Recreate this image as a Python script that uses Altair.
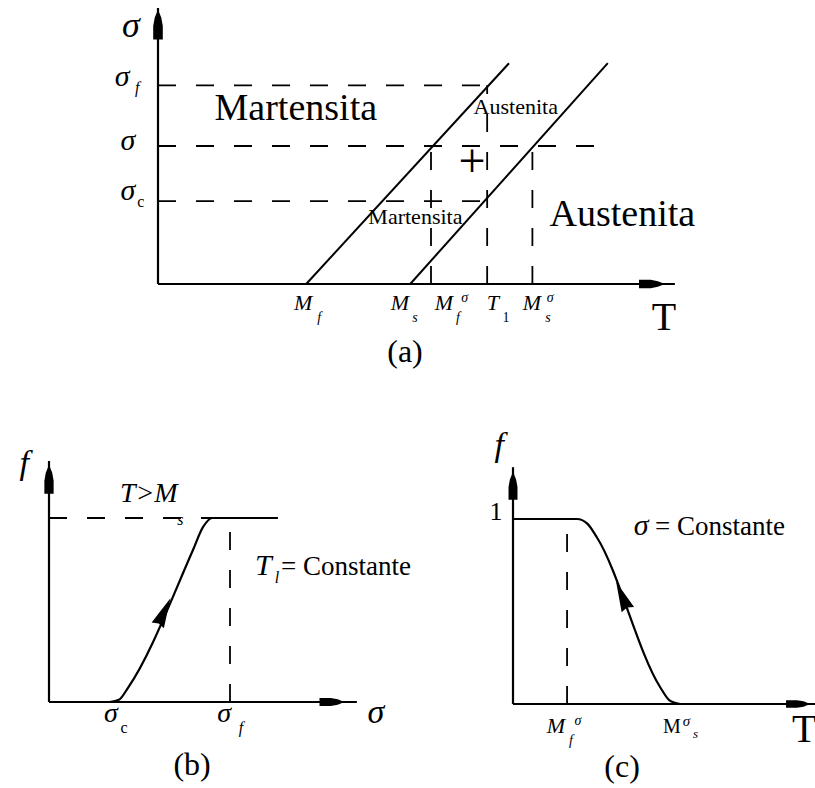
import altair as alt
import pandas as pd

SERIF = "Liberation Serif"

# ---------------- (a) stress-temperature phase diagram ----------------
# temperatures on the T axis (arbitrary units)
T_MF, T_MS, T_MF_SIG, T_1, T_MS_SIG = 28.5, 48.5, 52.5, 63.3, 72.0
# stress levels on the sigma axis
S_C, S_MID, S_F, S_TOP = 30.0, 50.0, 72.0, 80.0
# transformation lines Mf(sigma) and Ms(sigma): T at sigma=0 and at S_TOP
line_start_T = [T_MF, T_MS]
line_end_T = [67.5, 86.5]
# dashed guides
hguide_sigma = [S_F, S_MID, S_C]
hguide_end_T = [T_1, 86.5, T_1]
vguide_T = [T_MF_SIG, T_1, T_MS_SIG]
vguide_top = [S_MID, S_F, S_MID]

# ---------------- (b) fraction f vs stress at constant T1 ----------------
b_sigma = [19.5, 22.5, 25.5, 46.3, 49.5, 52.5, 73.6]
b_f = [0.0, 0.012, 0.08, 0.826, 0.95, 1.0, 1.0]
B_SIG_C, B_SIG_F = 19.9, 58.2

# ---------------- (c) fraction f vs temperature at constant sigma ----------------
c_T = [0.0, 21.2, 24.6, 27.8, 48.7, 51.8, 55.3]
c_f = [1.0, 1.0, 0.975, 0.9, 0.092, 0.02, 0.0]
C_MF_SIG = 17.9

DASH = [18, 20]

# axis arrowhead: blunt block tapering to a point
AXIS_HEAD = "M0,-1L0.22,-0.45L0.32,0.1L0.32,1L-0.32,1L-0.32,0.1L-0.22,-0.45Z"
# arrowhead drawn on the curves
CURVE_HEAD = "M0,-1L0.45,1L0,0.85L-0.45,1Z"


def sc(domain, rng):
    return alt.Scale(domain=domain, range=rng, nice=False, zero=False)


XA, YA = sc([0, 100], [158, 678]), sc([0, 100], [284, 8])
XB, YB = sc([0, 100], [49, 360]), sc([0, 1], [702, 518])
XC, YC = sc([0, 100], [513, 815]), sc([0, 1], [704, 519])


def segs(x, y, x2, y2, xs, ys, dash=False, width=2.0):
    df = pd.DataFrame({"x": x, "y": y, "x2": x2, "y2": y2})
    kw = dict(color="black", strokeWidth=width)
    if dash:
        kw["strokeDash"] = DASH
    return alt.Chart(df).mark_rule(**kw).encode(
        x=alt.X("x:Q", scale=xs, axis=None),
        y=alt.Y("y:Q", scale=ys, axis=None),
        x2="x2:Q",
        y2="y2:Q",
    )


def arrowhead(x, y, angle, length, shape, xs, ys):
    df = pd.DataFrame({"x": [x], "y": [y]})
    return alt.Chart(df).mark_point(
        shape=shape, size=length * length, filled=True, color="black",
        opacity=1, strokeWidth=0, angle=angle,
    ).encode(
        x=alt.X("x:Q", scale=xs, axis=None),
        y=alt.Y("y:Q", scale=ys, axis=None),
    )


def curve(x, y, xs, ys):
    df = pd.DataFrame({"x": x, "y": y})
    return alt.Chart(df).mark_line(
        color="black", strokeWidth=2.2, interpolate="monotone"
    ).encode(
        x=alt.X("x:Q", scale=xs, axis=None),
        y=alt.Y("y:Q", scale=ys, axis=None),
    )


def texts(rows, xs, ys, size, italic=False, align="center", baseline="alphabetic"):
    df = pd.DataFrame(rows, columns=["t", "x", "y"])
    return alt.Chart(df).mark_text(
        font=SERIF, fontSize=size, fontStyle="italic" if italic else "normal",
        align=align, baseline=baseline, color="black",
    ).encode(
        x=alt.X("x:Q", scale=xs, axis=None),
        y=alt.Y("y:Q", scale=ys, axis=None),
        text="t:N",
    )


# ---------- panel (a) ----------
panel_a = alt.layer(
    segs([0], [0], [0], [100], XA, YA, width=2.2),
    segs([0], [0], [99.4], [0], XA, YA, width=2.2),
    arrowhead(0, 94.0, 0, 30, AXIS_HEAD, XA, YA),
    arrowhead(95.0, 0, 90, 26, AXIS_HEAD, XA, YA),
    segs(line_start_T, [0, 0], line_end_T, [S_TOP, S_TOP], XA, YA, width=2.0),
    segs([0, 0, 0], hguide_sigma, hguide_end_T, hguide_sigma, XA, YA, dash=True, width=1.8),
    segs(vguide_T, [0, 0, 0], vguide_T, vguide_top, XA, YA, dash=True, width=1.8),
    texts([("Martensita", 26.5, 59.4), ("Austenita", 89.3, 21.0)], XA, YA, 38),
    texts([("Austenita", 68.8, 61.6), ("Martensita", 49.5, 21.7)], XA, YA, 22),
    texts([("+", 60.4, 38.8)], XA, YA, 48),
    texts([("σ", -5.2, 89.5)], XA, YA, 36, italic=True),
    texts([("σ", -6.9, 71.7), ("σ", -5.8, 48.6), ("σ", -5.8, 30.4)], XA, YA, 30, italic=True),
    texts([("f", -4.0, 69.2)], XA, YA, 16, italic=True),
    texts([("c", -3.3, 27.9)], XA, YA, 16),
    texts([("M", 27.9, -9.4), ("M", 46.5, -9.4), ("M", 55.0, -9.4),
           ("T", 64.4, -9.4), ("M", 71.9, -9.4)], XA, YA, 22, italic=True),
    texts([("f", 31.0, -13.6), ("s", 49.4, -13.6), ("f", 57.7, -13.6),
           ("s", 75.0, -13.6), ("σ", 59.0, -6.5), ("σ", 75.4, -6.5)], XA, YA, 14, italic=True),
    texts([("1", 66.9, -13.6)], XA, YA, 14),
    texts([("T", 97.3, -16.7)], XA, YA, 40),
    texts([("(a)", 47.5, -28.3)], XA, YA, 32),
)

# ---------- panel (b) ----------
panel_b = alt.layer(
    segs([0], [0], [0], [1.31], XB, YB, width=2.2),
    segs([0], [0], [99.0], [0], XB, YB, width=2.2),
    arrowhead(0, 1.21, 0, 29, AXIS_HEAD, XB, YB),
    arrowhead(91.0, 0, 90, 25, AXIS_HEAD, XB, YB),
    segs([0], [1], [52.5], [1], XB, YB, dash=True, width=1.8),
    segs([B_SIG_F], [0], [B_SIG_F], [1], XB, YB, dash=True, width=1.8),
    curve(b_sigma, b_f, XB, YB),
    arrowhead(37.0, 0.49, 25, 30, CURVE_HEAD, XB, YB),
    texts([("f", -8.0, 1.239)], XB, YB, 34, italic=True),
    texts([("T>M", 22.8, 1.087)], XB, YB, 28, italic=True, align="left"),
    texts([("s", 41.2, 0.962)], XB, YB, 16, italic=True, align="left"),
    texts([("l", 72.6, 0.647)], XB, YB, 16, italic=True, align="left"),
    texts([("T", 66.2, 0.690)], XB, YB, 30, italic=True, align="left"),
    texts([("= Constante", 74.6, 0.690)], XB, YB, 27, align="left"),
    texts([("σ", B_SIG_C, -0.109), ("σ", 56.3, -0.109)], XB, YB, 28, italic=True),
    texts([("c", 24.1, -0.168)], XB, YB, 16),
    texts([("f", 61.7, -0.168)], XB, YB, 16, italic=True),
    texts([("σ", 105.1, -0.114)], XB, YB, 34, italic=True),
    texts([("(b)", 46.0, -0.397)], XB, YB, 32),
)

# ---------- panel (c) ----------
panel_c = alt.layer(
    segs([0], [0], [0], [1.28], XC, YC, width=2.2),
    segs([0], [0], [100], [0], XC, YC, width=2.2),
    arrowhead(0, 1.18, 0, 28, AXIS_HEAD, XC, YC),
    arrowhead(94.4, 0, 90, 24, AXIS_HEAD, XC, YC),
    segs([C_MF_SIG], [0], [C_MF_SIG], [1], XC, YC, dash=True, width=1.8),
    curve(c_T, c_f, XC, YC),
    arrowhead(36.1, 0.585, 337, 30, CURVE_HEAD, XC, YC),
    texts([("f", -4.6, 1.34)], XC, YC, 34, italic=True),
    texts([("1", -5.6, 0.995)], XC, YC, 26),
    texts([("σ", 42.4, 0.914)], XC, YC, 30, italic=True),
    texts([("= Constante", 47.0, 0.914)], XC, YC, 27, align="left"),
    texts([("M", 14.2, -0.157)], XC, YC, 22, italic=True),
    texts([("f", 19.2, -0.222), ("σ", 21.5, -0.114)], XC, YC, 14, italic=True),
    texts([("s", 60.4, -0.185)], XC, YC, 13, italic=True),
    texts([("M", 52.6, -0.157)], XC, YC, 20),
    texts([("σ", 57.4, -0.118)], XC, YC, 15, italic=True),
    texts([("T", 96.4, -0.205)], XC, YC, 40),
    texts([("(c)", 36.1, -0.395)], XC, YC, 32),
)

chart = (
    alt.layer(panel_a, panel_b, panel_c)
    .resolve_scale(x="independent", y="independent")
    .properties(width=815, height=788, padding=0, autosize=alt.AutoSizeParams(type="none"), background="white")
    .configure_view(stroke=None)
)

chart.save("out.html", embed_options={"renderer": "svg", "actions": False})
